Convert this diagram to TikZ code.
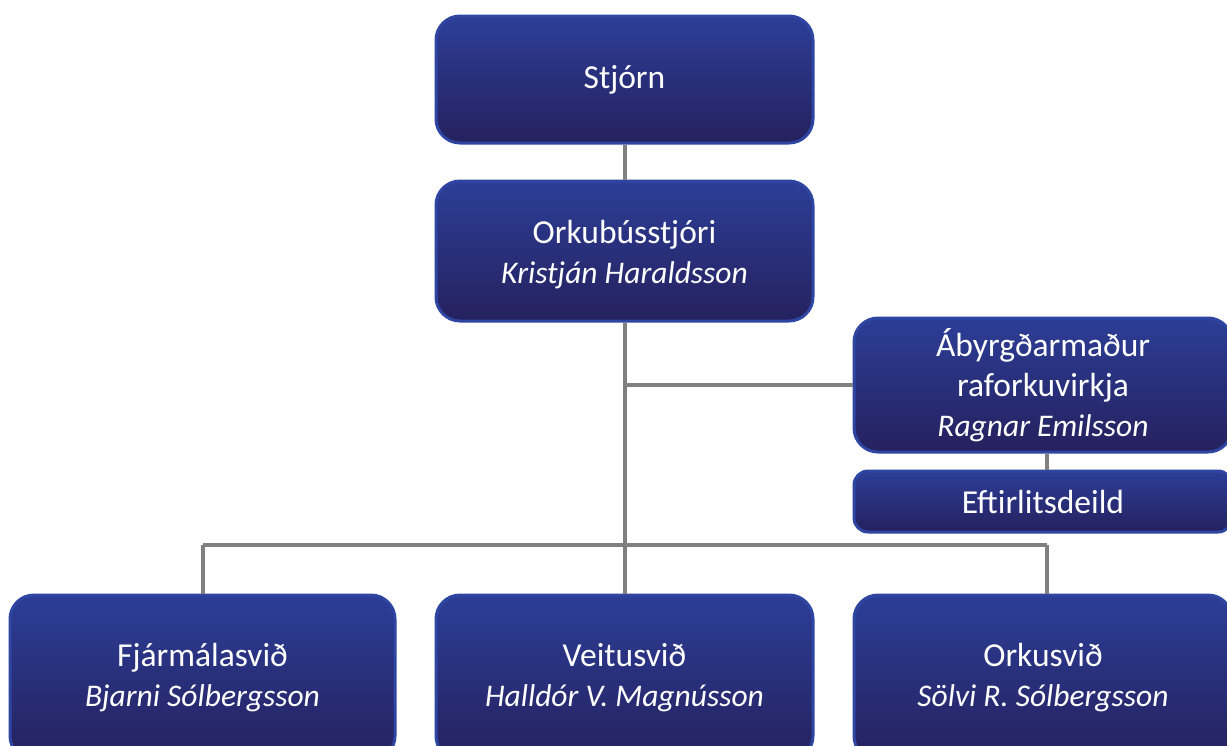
\documentclass[tikz,border=0pt]{standalone}
\usepackage{fontspec}
\setmainfont{Carlito}
\definecolor{boxtop}{HTML}{2C3E97}
\definecolor{boxbot}{HTML}{25215E}
\definecolor{boxline}{HTML}{2E45A2}
\definecolor{conn}{HTML}{808080}
\newcommand{\pname}[1]{{\fontsize{31.5}{40}\selectfont\itshape #1}}
\begin{document}
\begin{tikzpicture}[x=1pt,y=-1pt,
  orgbox/.style={draw=boxline, line width=3pt, rounded corners=24pt,
    top color=boxtop, bottom color=boxbot, text=white, align=center,
    inner sep=0pt, font=\fontsize{33.5}{40}\selectfont},
  link/.style={draw=conn, line width=4pt}]
\useasboundingbox (0,0) rectangle (1227,745);
\clip (0,0) rectangle (1227,745);
\node[orgbox, minimum width=377pt, minimum height=127pt] (st) at (624.5,79.5) {Stjórn};
\node[orgbox, minimum width=377pt, minimum height=140pt] (ok) at (624.5,251) {\rule{0pt}{30pt}Orkubússtjóri\\\pname{Kristján Haraldsson}};
\node[orgbox, minimum width=378pt, minimum height=134pt] (ab) at (1043,385) {Ábyrgðarmaður\\raforkuvirkja\\\pname{Ragnar Emilsson}};
\node[orgbox, rounded corners=14pt, minimum width=378pt, minimum height=61pt] (ef) at (1043,501.5) {Eftirlitsdeild};
\node[orgbox, minimum width=385pt, minimum height=165pt] (fj) at (202.5,677.5) {Fjármálasvið\\\pname{Bjarni Sólbergsson}};
\node[orgbox, minimum width=377pt, minimum height=165pt] (ve) at (624.5,677.5) {Veitusvið\\\pname{Halldór V. Magnússon}};
\node[orgbox, minimum width=378pt, minimum height=165pt] (or) at (1043,677.5) {Orkusvið\\\pname{Sölvi R. Sólbergsson}};
\coordinate (j1) at (624.5,385);
\coordinate (jl) at (202.5,545);
\coordinate (jr) at (1047,545);
\path[link] (st.south) -- (ok.north);
\path[link] (ok.south) -- (ve.north);
\path[link] (j1) -- (ab.west);
\path[link] (jl) -- (jr);
\path[link] (jl) -- (fj.north);
\path[link] (jr) -- (jr |- or.north);
\path[link] (ab.south -| jr) -- (ef.north -| jr);
\end{tikzpicture}
\end{document}
